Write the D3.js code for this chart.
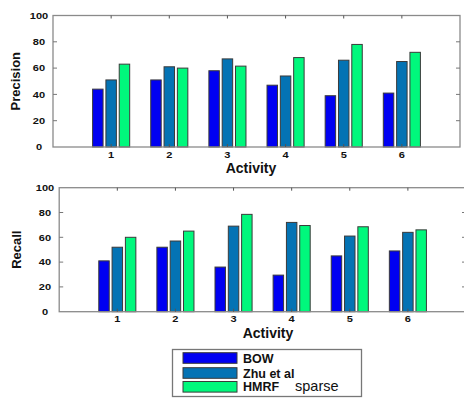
<!DOCTYPE html>
<html><head><meta charset="utf-8">
<script src="https://cdn.jsdelivr.net/npm/d3@7"></script>
<style>
html,body{margin:0;padding:0;background:#fff;overflow:hidden}
text{font-family:"Liberation Sans",Arial,sans-serif}
</style></head>
<body><svg id="c" width="464" height="399"></svg>
<script>
const activities = [1, 2, 3, 4, 5, 6];
const seriesNames = ["BOW", "Zhu et al", "HMRF"];
const precisionBOW  = [44, 51, 58, 47, 39, 41];
const precisionZhu  = [51, 61, 67, 54, 66, 65];
const precisionHMRF = [63, 60, 61.5, 68, 78, 72];
const recallBOW  = [41, 52, 36, 29.5, 45, 49];
const recallZhu  = [52, 57, 69, 72, 61, 64];
const recallHMRF = [60, 65, 78.5, 69.5, 68.5, 66];
const yTicks = [0, 20, 40, 60, 80, 100];
const colors = ["#0000f2", "#0473b4", "#00f87c"];

const svg = d3.select("#c");

function tickText(g, x, y, s) {
  g.append("text")
    .attr("transform", `translate(${x},${y}) scale(1.3,1)`)
    .attr("text-anchor", "middle").attr("font-size", 8.5).attr("font-weight", "bold")
    .attr("font-family", "'DejaVu Sans',sans-serif")
    .attr("fill", "#111").text(s);
}

function panel(cfg, series, ylabel) {
  const x = d3.scaleLinear().domain([0, 7]).range([cfg.left, cfg.right]);
  const y = d3.scaleLinear().domain([0, 100]).range([cfg.bottom, cfg.top]);
  const g = svg.append("g");
  const offs = [-0.229, 0, 0.229], bw = 0.18;
  series.forEach((vals, si) => {
    g.selectAll(null).data(vals).enter().append("rect")
      .attr("x", (d, i) => x(activities[i] + offs[si] - bw / 2))
      .attr("width", x(bw) - x(0))
      .attr("y", d => y(d))
      .attr("height", d => y(0) - y(d))
      .attr("fill", colors[si])
      .attr("stroke", "#3a3a3a").attr("stroke-width", 1);
  });
  g.append("rect").attr("x", cfg.left).attr("y", cfg.top)
    .attr("width", cfg.right - cfg.left).attr("height", cfg.bottom - cfg.top)
    .attr("fill", "none").attr("stroke", "#8a8a8a").attr("stroke-width", 1.3);
  yTicks.forEach(t => {
    if (t === 0 || t === 100) return;
    g.append("line").attr("x1", cfg.left).attr("x2", cfg.left + 4)
      .attr("y1", y(t)).attr("y2", y(t)).attr("stroke", "#777");
    g.append("line").attr("x1", cfg.right).attr("x2", cfg.right - 4)
      .attr("y1", y(t)).attr("y2", y(t)).attr("stroke", "#777");
  });
  activities.forEach(a => {
    g.append("line").attr("x1", x(a)).attr("x2", x(a))
      .attr("y1", cfg.top).attr("y2", cfg.top + 3).attr("stroke", "#555");
    g.append("line").attr("x1", x(a)).attr("x2", x(a))
      .attr("y1", cfg.bottom).attr("y2", cfg.bottom - 3).attr("stroke", "#555");
  });
  yTicks.forEach(t => tickText(g, cfg.ylabX, y(t) + 3.2, t));
  activities.forEach(a => tickText(g, x(a), cfg.bottom + 10.5, a));
  g.append("text").attr("x", cfg.xTitleX).attr("y", cfg.bottom + 26)
    .attr("text-anchor", "middle").attr("font-size", 14).attr("font-weight", "bold")
    .attr("fill", "#111").text("Activity");
  g.append("text")
    .attr("transform", `translate(${cfg.yTitleX},${(cfg.top + cfg.bottom) / 2}) rotate(-90)`)
    .attr("text-anchor", "middle").attr("font-size", 13).attr("font-weight", "bold")
    .attr("fill", "#111").text(ylabel);
}

panel({left: 53, right: 460, top: 15.5, bottom: 147, ylabX: 39, xTitleX: 251, yTitleX: 20},
      [precisionBOW, precisionZhu, precisionHMRF], "Precision");
panel({left: 59.2, right: 466, top: 187.7, bottom: 311.7, ylabX: 45, xTitleX: 268, yTitleX: 21},
      [recallBOW, recallZhu, recallHMRF], "Recall");

const lg = svg.append("g");
lg.append("rect").attr("x", 172.5).attr("y", 349.5).attr("width", 189).attr("height", 47)
  .attr("fill", "#fff").attr("stroke", "#777").attr("stroke-width", 1.3);
const rowsY = [358, 373, 386.8];
seriesNames.forEach((n, i) => {
  lg.append("rect").attr("x", 183).attr("y", rowsY[i] - 5.3).attr("width", 54).attr("height", 10.6)
    .attr("fill", colors[i]).attr("stroke", "#3a3a3a");
  lg.append("text").attr("x", 243).attr("y", rowsY[i] + 4.6)
    .attr("font-size", 12.5).attr("font-weight", "bold").attr("fill", "#111").text(n);
});
lg.append("text").attr("x", 295).attr("y", rowsY[2] + 4.6)
  .attr("font-size", 14.5).attr("fill", "#111").text("sparse");
</script></body></html>
